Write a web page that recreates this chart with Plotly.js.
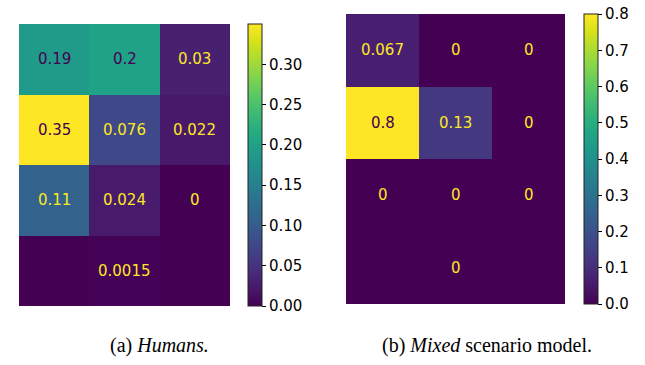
<!DOCTYPE html>
<html>
<head>
<meta charset="utf-8">
<script src="https://cdn.plot.ly/plotly-3.0.1.min.js"></script>
<style>html,body{margin:0;padding:0;background:#fff;}#chart{width:645px;height:365px;}</style>
</head>
<body>
<div id="chart"></div>
<script>
// Data (rows top to bottom, columns left to right); null = masked cell
const cols = [0, 1, 2];
const rows = [0, 1, 2, 3];
const humans = [
  [0.19, 0.2, 0.03],
  [0.35, 0.076, 0.022],
  [0.11, 0.024, 0],
  [null, 0.0015, null]
];
const mixed = [
  [0.067, 0, 0],
  [0.8, 0.13, 0],
  [0, 0, 0],
  [null, 0, null]
];
const humansTicks = [0, 0.05, 0.10, 0.15, 0.20, 0.25, 0.30];
const mixedTicks = [0, 0.1, 0.2, 0.3, 0.4, 0.5, 0.6, 0.7, 0.8];
const captionA = '(a) <i>Humans.</i>';
const captionB = '(b) <i>Mixed</i> scenario model.';

const W = 645, H = 365;
const FONT = 'DejaVu Sans, sans-serif';
const DARK = '#440154', LIGHT = '#fde725';

function maxOf(m) { return Math.max(...m.flat().filter(v => v !== null)); }

function heat(z, xa, ya, cbX, cbY, cbLen, ticks, fmt) {
  return {
    type: 'heatmap', z: z, x: cols, y: rows, xaxis: xa, yaxis: ya,
    colorscale: 'Viridis', zmin: 0, zmax: maxOf(z), hoverinfo: 'none',
    colorbar: {
      x: cbX, xanchor: 'left', xref: 'paper', y: cbY, yanchor: 'bottom', yref: 'paper',
      len: cbLen, lenmode: 'fraction', thickness: 14, thicknessmode: 'pixels',
      xpad: 0, ypad: 0, outlinewidth: 1, outlinecolor: '#222',
      ticks: 'outside', ticklen: 4, tickwidth: 1, tickcolor: '#000',
      tickvals: ticks, ticktext: ticks.map(v => v.toFixed(fmt)),
      tickfont: {family: FONT, size: 15, color: '#000'}
    }
  };
}

function labels(z, xa, ya) {
  const zmax = maxOf(z);
  const out = [];
  z.forEach((row, r) => row.forEach((v, c) => {
    if (v === null) return;
    out.push({
      x: cols[c], y: rows[r], xref: xa, yref: ya, text: String(v), showarrow: false,
      font: {family: FONT, size: 15, color: v / zmax > 0.5 ? DARK : LIGHT}
    });
  }));
  return out;
}

// pixel geometry
const A = {l: 19, r: 230, t: 24, b: 306, cb: 248};
const B = {l: 346, r: 565, t: 14, b: 304, cb: 584};

const data = [
  heat(humans, 'x', 'y', A.cb / W, 1 - A.b / H, (A.b - A.t) / H, humansTicks, 2),
  heat(mixed, 'x2', 'y2', B.cb / W, 1 - B.b / H, (B.b - B.t) / H, mixedTicks, 1)
];

const axX = (d) => ({domain: d, range: [-0.5, 2.5], showgrid: false, zeroline: false, showticklabels: false, ticks: '', showline: false, fixedrange: true});
const axY = (d) => ({domain: d, range: [3.5, -0.5], showgrid: false, zeroline: false, showticklabels: false, ticks: '', showline: false, fixedrange: true});

const SERIF = 'Liberation Serif, Times New Roman, serif';
const layout = {
  width: W, height: H,
  margin: {l: 0, r: 0, t: 0, b: 0, pad: 0},
  paper_bgcolor: '#fff', plot_bgcolor: '#440154',
  showlegend: false,
  xaxis: axX([A.l / W, A.r / W]), yaxis: axY([1 - A.b / H, 1 - A.t / H]),
  xaxis2: Object.assign(axX([B.l / W, B.r / W]), {anchor: 'y2'}),
  yaxis2: Object.assign(axY([1 - B.b / H, 1 - B.t / H]), {anchor: 'x2'}),
  annotations: labels(humans, 'x', 'y').concat(labels(mixed, 'x2', 'y2')).concat([
    {xref: 'paper', yref: 'paper', x: 159.5 / W, y: 1 - 345 / H, xanchor: 'center', yanchor: 'middle', showarrow: false,
     text: captionA, font: {family: SERIF, size: 20, color: '#000'}},
    {xref: 'paper', yref: 'paper', x: 486.5 / W, y: 1 - 345 / H, xanchor: 'center', yanchor: 'middle', showarrow: false,
     text: captionB, font: {family: SERIF, size: 20, color: '#000'}}
  ])
};

Plotly.newPlot('chart', data, layout, {displayModeBar: false, staticPlot: true});
</script>
</body>
</html>
